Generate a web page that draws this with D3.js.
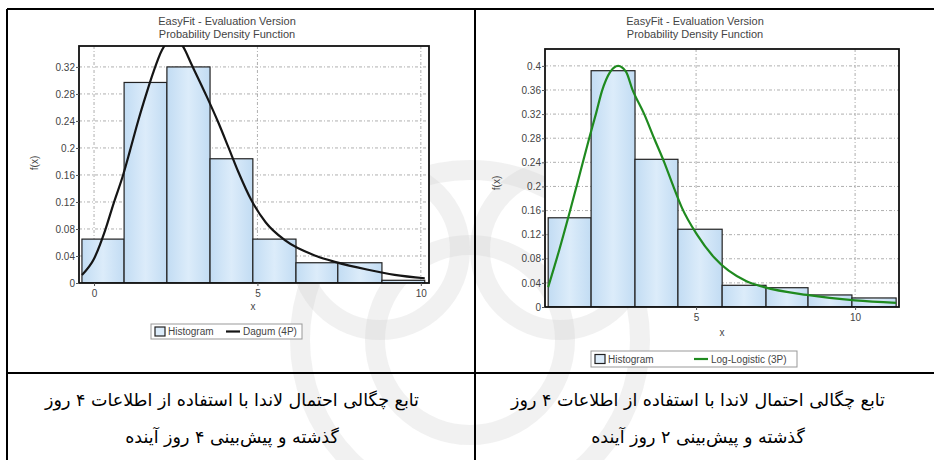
<!DOCTYPE html>
<html>
<head>
<meta charset="utf-8">
<script src="https://cdn.jsdelivr.net/npm/d3@7"></script>
<style>
  body { margin: 0; background: #fff; }
  svg { display: block; }
</style>
</head>
<body>
<main></main>
<script>
// left panel: Dagum (4P) fit
const leftBinEdges = [-0.37, 0.92, 2.23, 3.55, 4.86, 6.18, 7.46, 8.81, 10.12];
const leftBinHeights = [0.065, 0.297, 0.32, 0.184, 0.065, 0.03, 0.03, 0.004];
const leftCurveX = [-0.37, 0, 0.34, 0.6, 0.89, 1.1, 1.35, 1.6, 1.8, 2.08, 2.4, 2.7, 3.0, 3.45, 3.8, 4.12, 4.42, 4.8, 5.25, 5.85, 6.8, 7.4, 8.35, 9.2, 10.12];
const leftCurveY = [0.012, 0.036, 0.078, 0.118, 0.16, 0.196, 0.24, 0.28, 0.31, 0.345, 0.362, 0.352, 0.322, 0.276, 0.238, 0.2, 0.164, 0.124, 0.09, 0.063, 0.04, 0.031, 0.02, 0.012, 0.007];
const leftYTicks = [0, 0.04, 0.08, 0.12, 0.16, 0.2, 0.24, 0.28, 0.32];
const leftXTicks = [0, 5, 10];

// right panel: Log-Logistic (3P) fit
const rightBinEdges = [0.35, 1.70, 3.08, 4.43, 5.82, 7.2, 8.52, 9.9, 11.29];
const rightBinHeights = [0.148, 0.392, 0.245, 0.129, 0.036, 0.032, 0.02, 0.015];
const rightCurveX = [0.35, 0.7, 1.04, 1.35, 1.64, 1.86, 2.04, 2.3, 2.55, 2.8, 2.99, 3.37, 3.68, 4.0, 4.25, 4.56, 5.03, 5.57, 6.57, 7.14, 8.49, 10.0, 11.29];
const rightCurveY = [0.033, 0.095, 0.16, 0.222, 0.28, 0.322, 0.358, 0.39, 0.4, 0.39, 0.362, 0.32, 0.28, 0.24, 0.205, 0.164, 0.12, 0.082, 0.043, 0.033, 0.02, 0.011, 0.007];
const rightYTicks = [0, 0.04, 0.08, 0.12, 0.16, 0.2, 0.24, 0.28, 0.32, 0.36, 0.4];
const rightXTicks = [5, 10];

const titleLines = ["EasyFit - Evaluation Version", "Probability Density Function"];
const captions = [
  ["تابع چگالی احتمال لاندا با استفاده از اطلاعات ۴ روز", "گذشته و پیش‌بینی ۴ روز آینده"],
  ["تابع چگالی احتمال لاندا با استفاده از اطلاعات ۴ روز", "گذشته و پیش‌بینی ۲ روز آینده"]
];

const W = 934, H = 460;
const svg = d3.select("main").append("svg").attr("width", W).attr("height", H);

const defs = svg.append("defs");
const grad = defs.append("linearGradient").attr("id", "barfill").attr("x1", 0).attr("x2", 1).attr("y1", 0).attr("y2", 0);
grad.append("stop").attr("offset", "0%").attr("stop-color", "#c2dcf3");
grad.append("stop").attr("offset", "50%").attr("stop-color", "#dcecfa");
grad.append("stop").attr("offset", "100%").attr("stop-color", "#c2dcf3");

// faint watermark behind everything
const wm = svg.append("g").attr("fill", "none").attr("stroke", "#d0d0d0").attr("stroke-opacity", 0.3).attr("stroke-width", 20);
[[470, 340, 95], [470, 340, 170], [560, 250, 80], [380, 250, 80]].forEach(c => {
  wm.append("circle").attr("cx", c[0]).attr("cy", c[1]).attr("r", c[2]);
});

function panel(cfg) {
  const x = d3.scaleLinear().domain(cfg.xDomain).range(cfg.xRange);
  const y = d3.scaleLinear().domain(cfg.yDomain).range(cfg.yRange);
  const g = svg.append("g");
  const [x0, x1] = cfg.xRange, [y0, y1] = cfg.yRange;

  g.append("rect").attr("x", x0).attr("y", y1).attr("width", x1 - x0).attr("height", y0 - y1).attr("fill", "#fff");

  // titles
  g.selectAll("text.title").data(titleLines).join("text")
    .attr("x", cfg.titleX).attr("y", (d, i) => cfg.titleY + i * 13)
    .attr("text-anchor", "middle").attr("font-family", "Liberation Sans, Arial, sans-serif")
    .attr("font-size", 11).attr("fill", "#444").text(d => d);

  // grid
  const grid = g.append("g").attr("stroke", "#9a9a9a").attr("stroke-width", 0.8).attr("stroke-dasharray", "3,2,1,2");
  grid.selectAll("line.h").data(cfg.yTicks.filter(t => t > 0)).join("line")
    .attr("x1", x0).attr("x2", x1).attr("y1", d => y(d)).attr("y2", d => y(d));
  grid.selectAll("line.v").data(cfg.xTicks).join("line")
    .attr("x1", d => x(d)).attr("x2", d => x(d)).attr("y1", y1).attr("y2", y0);

  const clipId = "clip" + cfg.id;
  defs.append("clipPath").attr("id", clipId).append("rect")
    .attr("x", x0).attr("y", y1).attr("width", x1 - x0).attr("height", y0 - y1);
  const plot = g.append("g").attr("clip-path", `url(#${clipId})`);

  // histogram bars
  plot.selectAll("rect.bar").data(cfg.heights).join("rect")
    .attr("x", (d, i) => x(cfg.edges[i]))
    .attr("width", (d, i) => x(cfg.edges[i + 1]) - x(cfg.edges[i]))
    .attr("y", d => y(d)).attr("height", d => y(0) - y(d))
    .attr("fill", "url(#barfill)").attr("stroke", "#222").attr("stroke-width", 1.2);

  // fitted curve
  const pts = cfg.curveX.map((v, i) => ({ x: v, y: cfg.curveY[i] }));
  const line = d3.line().x(d => x(d.x)).y(d => y(d.y)).curve(d3.curveMonotoneX);
  plot.append("path").datum(pts).attr("d", line)
    .attr("fill", "none").attr("stroke", cfg.curveColor).attr("stroke-width", 2.2)
    .attr("stroke-linejoin", "round");

  // frame
  g.append("rect").attr("x", x0).attr("y", y1).attr("width", x1 - x0).attr("height", y0 - y1)
    .attr("fill", "none").attr("stroke", "#111").attr("stroke-width", 1.8);

  // axes
  const yAxis = d3.axisLeft(y).tickValues(cfg.yTicks).tickSize(3).tickPadding(1).tickFormat(d3.format("~g"));
  const xAxis = d3.axisBottom(x).tickValues(cfg.xTicks).tickSize(3).tickPadding(4).tickFormat(d3.format("d"));
  [g.append("g").attr("transform", `translate(${x0},0)`).call(yAxis),
   g.append("g").attr("transform", `translate(0,${y0})`).call(xAxis)].forEach(a => {
    a.select(".domain").remove();
    a.selectAll(".tick line").attr("stroke", "#555");
    a.selectAll(".tick text").attr("fill", "#444").attr("font-size", 10)
      .attr("font-family", "Liberation Sans, Arial, sans-serif");
  });

  g.append("text").attr("transform", `translate(${cfg.fxPos[0]},${cfg.fxPos[1]}) rotate(-90)`)
    .attr("text-anchor", "middle").attr("font-family", "Liberation Sans, Arial, sans-serif")
    .attr("font-size", 10).attr("fill", "#444").text("f(x)");
  g.append("text").attr("x", cfg.xLabPos[0]).attr("y", cfg.xLabPos[1])
    .attr("text-anchor", "middle").attr("font-family", "Liberation Sans, Arial, sans-serif")
    .attr("font-size", 10).attr("fill", "#444").text("x");

  // legend
  const L = cfg.legend;
  const lg = g.append("g").attr("font-family", "Liberation Sans, Arial, sans-serif").attr("font-size", 10).attr("fill", "#444");
  lg.append("rect").attr("x", L.x).attr("y", L.y).attr("width", L.w).attr("height", L.h)
    .attr("fill", "#fff").attr("stroke", "#999");
  const cy = L.y + L.h / 2;
  lg.append("rect").attr("x", L.x + 4).attr("y", cy - 4.5).attr("width", 10).attr("height", 9)
    .attr("fill", "#dcecfa").attr("stroke", "#222").attr("stroke-width", 1.2);
  lg.append("text").attr("x", L.x + 17).attr("y", cy + 3.5).text("Histogram");
  lg.append("line").attr("x1", L.lineX).attr("x2", L.lineX + 14).attr("y1", cy).attr("y2", cy)
    .attr("stroke", cfg.curveColor).attr("stroke-width", 2.2);
  lg.append("text").attr("x", L.lineX + 17).attr("y", cy + 3.5).text(cfg.fitName);
}

panel({
  id: "L", xDomain: [-0.46, 10.25], yDomain: [0, 0.351], xRange: [79, 429], yRange: [283, 46],
  edges: leftBinEdges, heights: leftBinHeights, curveX: leftCurveX, curveY: leftCurveY,
  yTicks: leftYTicks, xTicks: leftXTicks, curveColor: "#151515", fitName: "Dagum (4P)",
  titleX: 227, titleY: 25, fxPos: [38, 163], xLabPos: [253, 310],
  legend: { x: 151, y: 324, w: 151, h: 15, lineX: 226 }
});

panel({
  id: "R", xDomain: [0.25, 11.38], yDomain: [0, 0.428], xRange: [545, 899], yRange: [307, 49],
  edges: rightBinEdges, heights: rightBinHeights, curveX: rightCurveX, curveY: rightCurveY,
  yTicks: rightYTicks, xTicks: rightXTicks, curveColor: "#1f8a1f", fitName: "Log-Logistic (3P)",
  titleX: 695, titleY: 25, fxPos: [500, 183], xLabPos: [722, 336],
  legend: { x: 591, y: 351, w: 206, h: 16, lineX: 694 }
});

// table lines
const tbl = svg.append("g").attr("stroke", "#000").attr("stroke-width", 2);
tbl.append("line").attr("x1", 7).attr("x2", W).attr("y1", 9).attr("y2", 9);
tbl.append("line").attr("x1", 7).attr("x2", W).attr("y1", 373).attr("y2", 373);
tbl.append("line").attr("x1", 7).attr("x2", 7).attr("y1", 9).attr("y2", H);
tbl.append("line").attr("x1", 475).attr("x2", 475).attr("y1", 9).attr("y2", H);

// captions
const capX = [232, 698];
captions.forEach((lines, c) => {
  svg.append("g").selectAll("text").data(lines).join("text")
    .attr("x", capX[c]).attr("y", (d, i) => 406 + i * 37)
    .attr("text-anchor", "middle").attr("direction", "rtl")
    .attr("font-family", "DejaVu Sans, sans-serif").attr("font-size", 17.5).attr("fill", "#000")
    .text(d => d);
});
</script>
</body>
</html>
